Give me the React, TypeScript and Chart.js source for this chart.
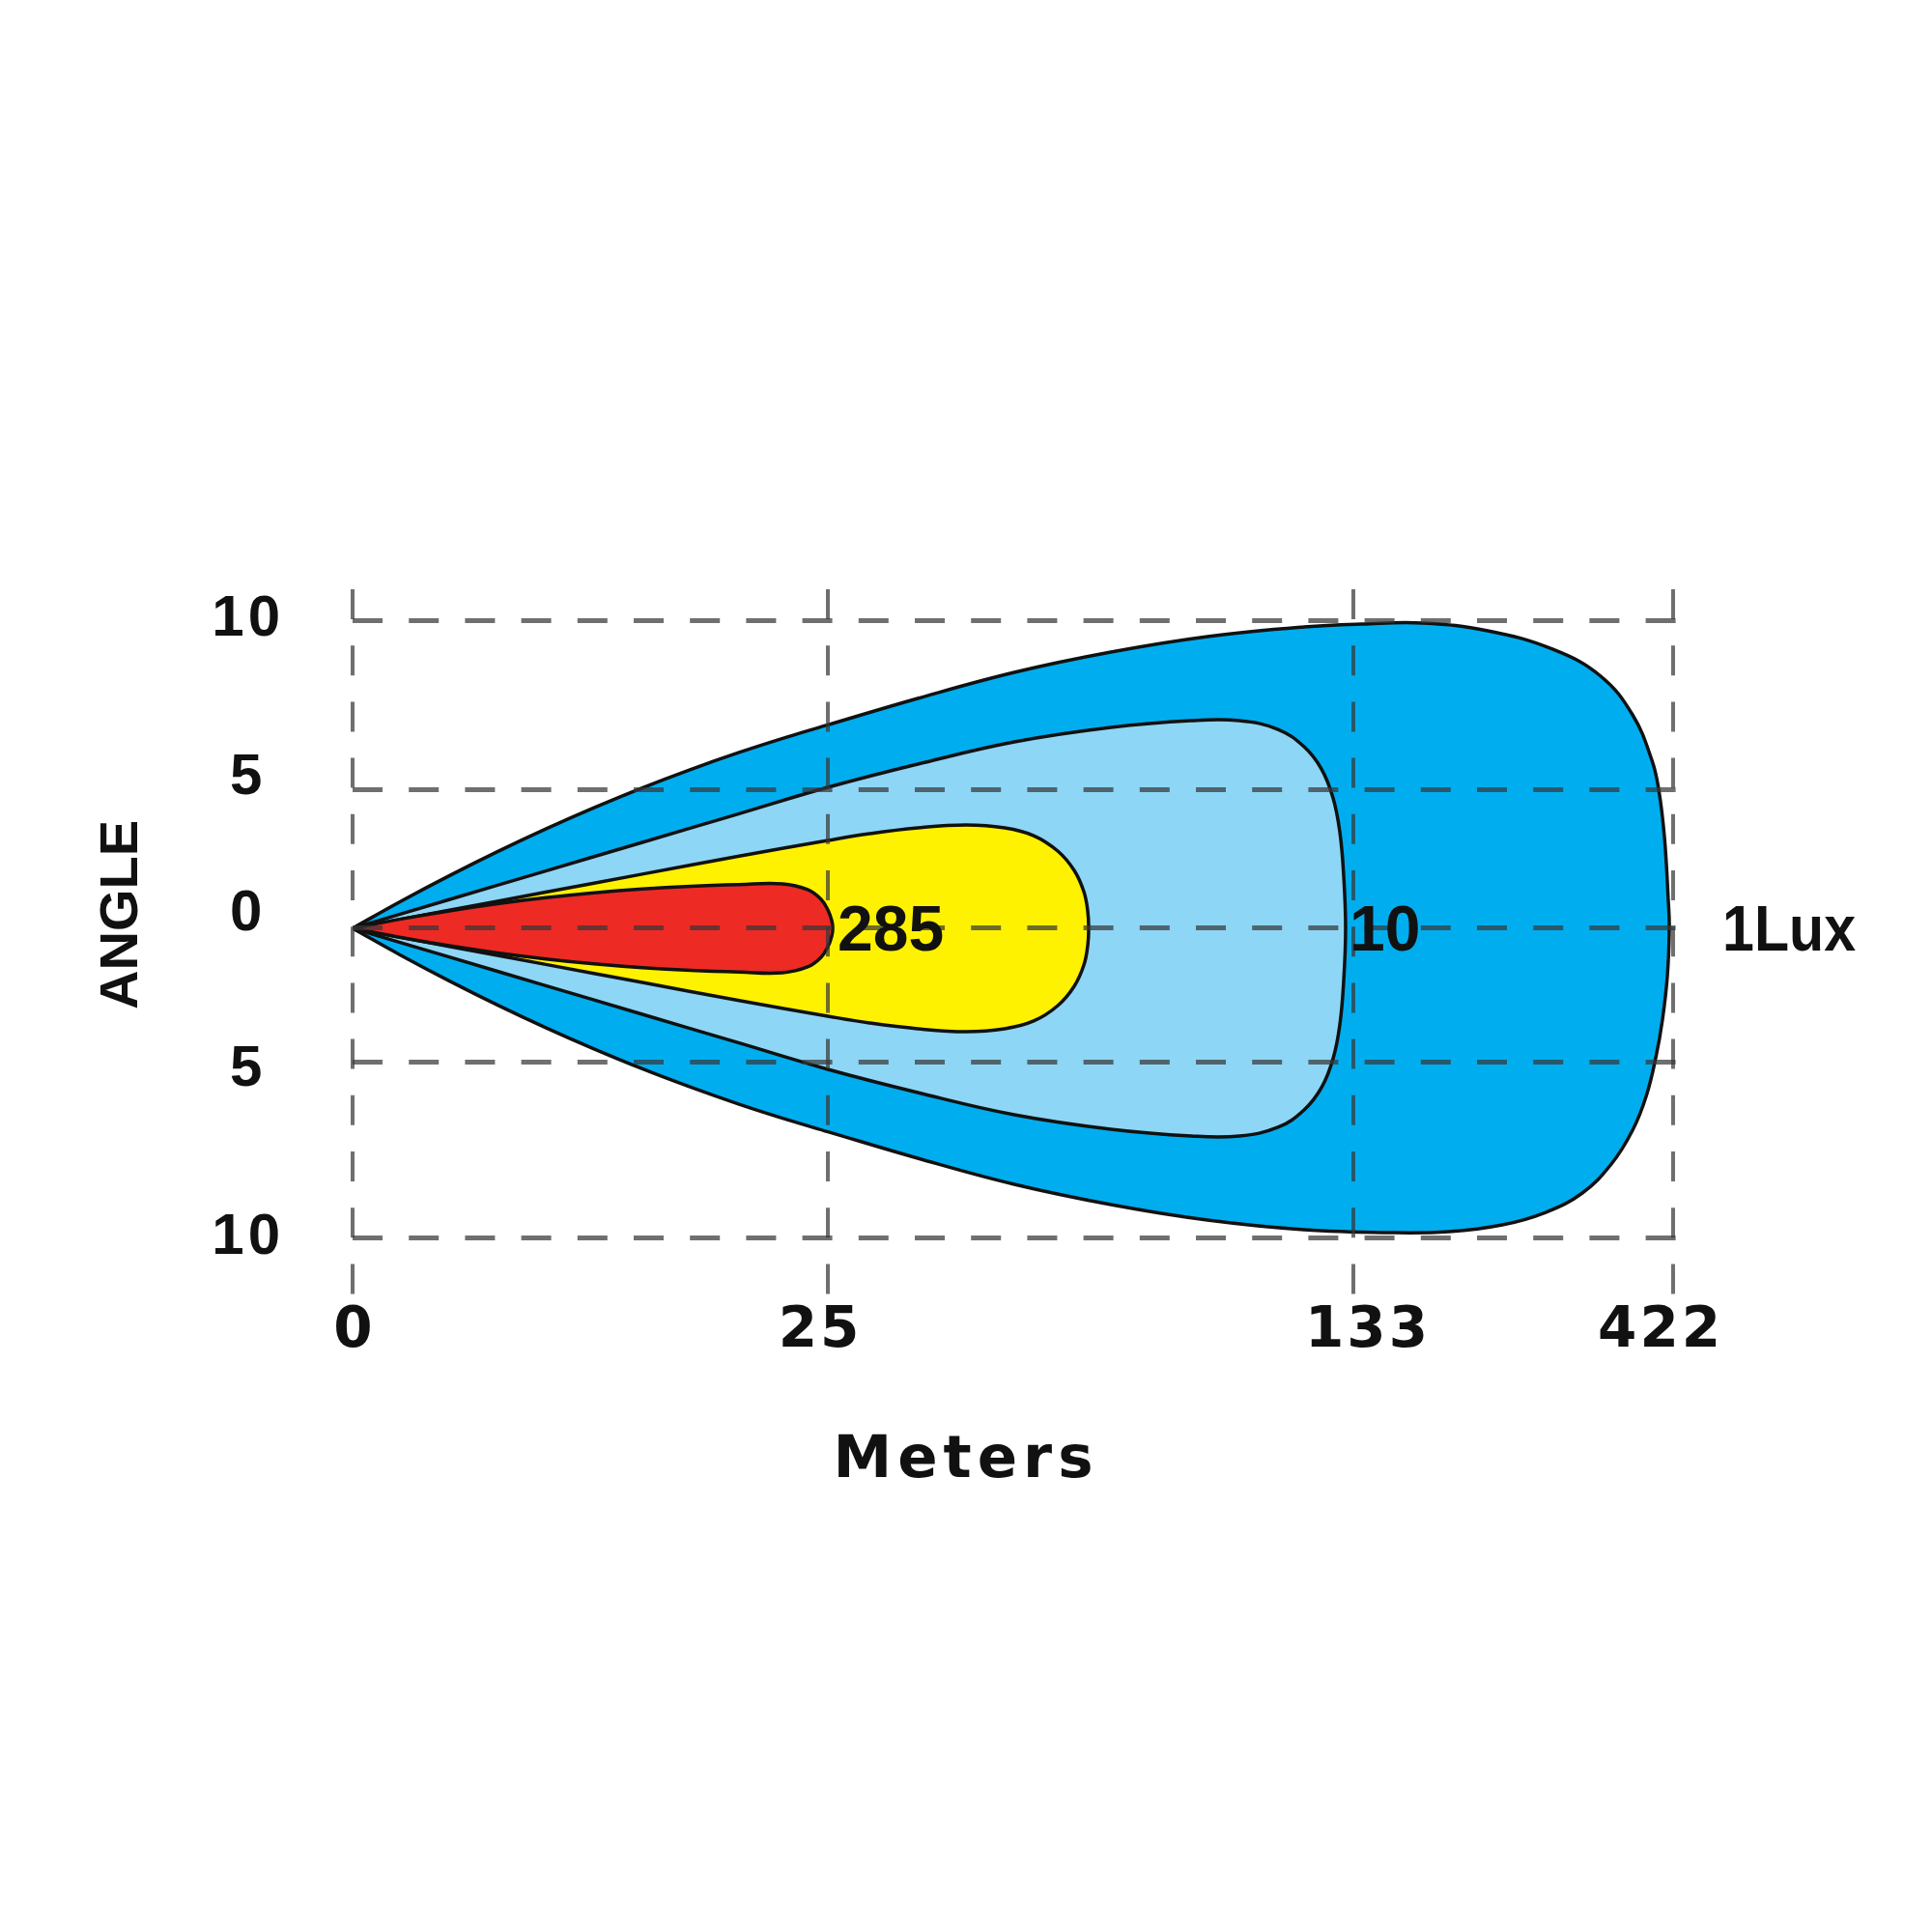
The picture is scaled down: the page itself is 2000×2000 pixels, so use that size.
import React, { useEffect, useRef } from 'react';
import { Chart, registerables, LinearScale } from 'chart.js';

Chart.register(...registerables);

// ---------------- data ----------------
const X_TICKS = [0, 25, 133, 422]; // meters
const Y_TICKS = [-10, -5, 0, 5, 10]; // degrees
const Y_TICK_LABELS = ['10', '5', '0', '5', '10'];

// iso-lux contours, closed outlines: [meters, degrees]
const LUX_1: [number, number][] = [
  [0, 0], [2.54, 0.972], [5.08, 1.889], [7.62, 2.757], [10.16, 3.573], [12.7, 4.337],
  [15.24, 5.043], [17.78, 5.589], [20.33, 6.095], [22.87, 6.557], [25.0, 6.914],
  [43.46, 7.701], [63.32, 8.477], [83.17, 9.08], [103.02, 9.54], [122.88, 9.828],
  [140.86, 9.914], [195.86, 9.943], [254.36, 9.713], [312.86, 9.167], [356.52, 8.362],
  [385.33, 7.213], [402.79, 5.862], [408.9, 5.0], [414.14, 3.264], [417.63, 0.972],
  [418.51, 0], [416.76, -1.763], [412.39, -3.381], [406.28, -4.82], [397.55, -5.967],
  [385.33, -6.934], [366.12, -7.901], [339.93, -8.729], [306.75, -9.282], [267.46, -9.641],
  [219.44, -9.834], [167.05, -9.862], [122.88, -9.779], [103.02, -9.503], [83.17, -9.061],
  [63.32, -8.481], [43.46, -7.735], [25.0, -6.978], [22.87, -6.635], [20.33, -6.191],
  [17.78, -5.704], [15.24, -5.18], [12.7, -4.493], [10.16, -3.701], [7.62, -2.856],
  [5.08, -1.957], [2.54, -1.007], [0, 0],
];

const LUX_10: [number, number][] = [
  [0, 0], [5.08, 1.031], [10.16, 2.063], [15.24, 3.09], [20.33, 4.122], [25.0, 5.057],
  [43.46, 5.747], [63.32, 6.408], [83.17, 6.839], [99.65, 7.04], [109.57, 7.04],
  [117.51, 6.782], [122.88, 6.264], [126.45, 5.603], [128.83, 4.688], [130.22, 3.472],
  [131.01, 1.91], [131.41, 0], [131.01, -1.978], [130.22, -3.597], [128.83, -4.856],
  [126.45, -5.718], [122.88, -6.354], [117.51, -6.851], [109.57, -7.099], [99.65, -7.099],
  [83.17, -6.906], [63.32, -6.492], [43.46, -5.856], [25.0, -5.193], [20.33, -4.27],
  [15.24, -3.201], [10.16, -2.137], [5.08, -1.068], [0, 0],
];

const YELLOW_ZONE: [number, number][] = [
  [0, 0], [5.08, 0.649], [10.16, 1.299], [15.24, 1.948], [20.33, 2.597], [25.0, 3.16],
  [33.54, 3.403], [43.46, 3.611], [53.39, 3.715], [61.33, 3.611], [67.29, 3.333],
  [72.25, 2.778], [75.62, 2.083], [77.61, 1.319], [78.4, 0.625], [78.6, 0],
  [78.4, -0.647], [77.61, -1.367], [75.62, -2.158], [72.25, -2.878], [67.29, -3.453],
  [61.33, -3.741], [53.39, -3.849], [43.46, -3.741], [33.54, -3.525], [25.0, -3.273],
  [20.33, -2.691], [15.24, -2.018], [10.16, -1.345], [5.08, -0.673], [0, 0],
];

const LUX_285: [number, number][] = [
  [0, 0], [2.54, 0.333], [5.08, 0.628], [7.62, 0.885], [10.16, 1.1], [12.7, 1.278],
  [15.24, 1.417], [17.78, 1.514], [20.33, 1.573], [22.61, 1.597], [23.93, 1.389],
  [24.64, 1.042], [25.0, 0.66], [25.79, 0.278], [25.99, 0], [25.79, -0.288],
  [25.0, -0.683], [24.64, -1.079], [23.93, -1.439], [22.61, -1.655], [20.33, -1.629],
  [17.78, -1.568], [15.24, -1.468], [12.7, -1.324], [10.16, -1.14], [7.62, -0.917],
  [5.08, -0.651], [2.54, -0.345], [0, 0],
];

const CONTOUR_LABELS = ['285', '10', '1Lux'];
const CONTOUR_LABEL_AT = [25, 133, 422]; // meters

// ---------------- layout / style ----------------
const W = 1984;
const H = 1984;
const FONT = '"Liberation Sans", Arial, Helvetica, sans-serif';
const WIDE_FONT = '"DejaVu Sans", Verdana, sans-serif';

// axis break layout (value -> fraction of axis length)
const X_BREAK_VALUES = [0, 25, 133, 422, 442];
const X_BREAK_FRACS = [0, 0.354, 0.7453, 0.9835, 1];
const Y_BREAK_VALUES = [-11.63, -10, -5, 0, 5, 10, 10.95];
const Y_BREAK_FRACS = [0, 0.0808, 0.3288, 0.5192, 0.7164, 0.9548, 1];
const X_LABEL_DX = [2, -8, 15, -13];
const Y_LABEL_DY = [0, 7, -15, -12, -2];
const LABEL_DX = [10, -4, 51];
const LABEL_MAXW = [112, 74, 138];

function interp(v: number, xs: number[], ys: number[]) {
  const n = xs.length;
  let i = 0;
  if (v <= xs[0]) i = 0;
  else if (v >= xs[n - 1]) i = n - 2;
  else {
    while (i < n - 2 && v > xs[i + 1]) i++;
  }
  const t = (v - xs[i]) / (xs[i + 1] - xs[i]);
  return ys[i] + t * (ys[i + 1] - ys[i]);
}

function makeBrokenScale(
  id: string,
  values: number[],
  fracs: number[],
  spacing: number,
  dxs: number[],
  dys: number[],
) {
  class BrokenScale extends (LinearScale as any) {
    getPixelForValue(value: any) {
      if (value === null || value === undefined || Number.isNaN(+value)) return NaN;
      return (this as any).getPixelForDecimal(interp(+value, values, fracs));
    }
    getValueForPixel(pixel: number) {
      return interp((this as any).getDecimalForPixel(pixel), fracs, values);
    }
    _computeLabelItems(area: any) {
      const items = super._computeLabelItems(area);
      if (Array.isArray(items)) {
        items.forEach((it: any, i: number) => {
          const tr = it && it.options && it.options.translation;
          if (tr) {
            tr[0] += dxs[i] || 0;
            tr[1] += dys[i] || 0;
          }
        });
      }
      return items;
    }
    drawLabels(area: any) {
      const ctx = (this as any).ctx;
      ctx.save();
      ctx.letterSpacing = spacing + 'px';
      super.drawLabels(area);
      ctx.restore();
    }
  }
  (BrokenScale as any).id = id;
  (BrokenScale as any).defaults = {};
  return BrokenScale;
}

const XBroken = makeBrokenScale('xbroken', X_BREAK_VALUES, X_BREAK_FRACS, 3, X_LABEL_DX, []);
const YBroken = makeBrokenScale('ybroken', Y_BREAK_VALUES, Y_BREAK_FRACS, 4, [], Y_LABEL_DY);
Chart.register(XBroken as any, YBroken as any);

const textPlugin = {
  id: 'beamText',
  afterDraw(chart: any) {
    const { ctx, chartArea, scales } = chart;
    ctx.save();
    ctx.fillStyle = '#111';
    ctx.textBaseline = 'middle';
    ctx.textAlign = 'left';
    ctx.font = `bold 66px ${FONT}`;
    const y0 = scales.y.getPixelForValue(0) + 5;
    CONTOUR_LABELS.forEach((t, i) => {
      ctx.fillText(t, scales.x.getPixelForValue(CONTOUR_LABEL_AT[i]) + LABEL_DX[i], y0, LABEL_MAXW[i]);
    });
    ctx.textAlign = 'center';
    ctx.font = `bold 61px ${WIDE_FONT}`;
    (ctx as any).letterSpacing = '6px';
    ctx.fillText('Meters', chartArea.left + 635, chartArea.bottom + 173);
    (ctx as any).letterSpacing = '0px';
    ctx.translate(chartArea.left - 238, chartArea.top + 337);
    ctx.rotate(-Math.PI / 2);
    ctx.font = `bold 56px ${FONT}`;
    ctx.fillText('ANGLE', 0, 0);
    ctx.restore();
  },
};

const CONTOURS = [
  { data: LUX_1, color: '#00AEEF', order: 3 },
  { data: LUX_10, color: '#8ED6F6', order: 2 },
  { data: YELLOW_ZONE, color: '#FFF200', order: 1 },
  { data: LUX_285, color: '#EE2A24', order: 0 },
];

const GRID_COLOR = 'rgba(55,55,55,0.72)';

export default function App() {
  const canvasRef = useRef<HTMLCanvasElement | null>(null);

  useEffect(() => {
    const canvas = canvasRef.current;
    if (!canvas) return;
    Chart.defaults.font.family = FONT;
    const chart = new Chart(canvas, {
      type: 'scatter',
      data: {
        datasets: CONTOURS.map((c) => ({
          data: c.data.map(([x, y]) => ({ x, y })),
          showLine: true,
          fill: 'shape',
          backgroundColor: c.color,
          borderColor: '#111',
          borderWidth: 3.5,
          borderJoinStyle: 'round',
          pointRadius: 0,
          pointHoverRadius: 0,
          tension: 0.4,
          order: c.order,
        })) as any,
      },
      plugins: [textPlugin],
      options: {
        responsive: false,
        animation: false,
        devicePixelRatio: 1,
        events: [],
        layout: { padding: { top: 602, right: 237, bottom: 0, left: 0 } },
        plugins: { legend: { display: false }, tooltip: { enabled: false } },
        scales: {
          x: {
            type: 'xbroken' as any,
            min: 0,
            max: 442,
            afterBuildTicks: (s: any) => {
              s.ticks = X_TICKS.map((v) => ({ value: v }));
            },
            afterFit: (s: any) => {
              s.height = 652;
            },
            ticks: {
              autoSkip: false,
              maxRotation: 0,
              padding: 4,
              color: '#111',
              font: { size: 58, weight: 'bold', family: WIDE_FONT },
              callback: (v: any) => String(v),
            },
            grid: { color: GRID_COLOR, lineWidth: 4, drawTicks: false, z: 1 },
            border: { display: false, dash: [31, 27.2] },
          } as any,
          y: {
            type: 'ybroken' as any,
            min: -11.63,
            max: 10.95,
            afterBuildTicks: (s: any) => {
              s.ticks = Y_TICKS.map((v) => ({ value: v }));
            },
            afterFit: (s: any) => {
              s.width = 357;
            },
            ticks: {
              padding: 75,
              crossAlign: 'center',
              color: '#111',
              font: { size: 60, weight: 'bold', family: FONT },
              callback: (v: any) => {
                const i = Y_TICKS.indexOf(+v);
                return i >= 0 ? Y_TICK_LABELS[i] : '';
              },
            },
            grid: { color: GRID_COLOR, lineWidth: 5, drawTicks: false, z: 1 },
            border: { display: false, dash: [31, 27.2] },
          } as any,
        },
      },
    });
    return () => chart.destroy();
  }, []);

  return (
    <div style={{ width: W, height: H }}>
      <canvas ref={canvasRef} width={W} height={H} style={{ display: 'block', width: W, height: H }} />
    </div>
  );
}
